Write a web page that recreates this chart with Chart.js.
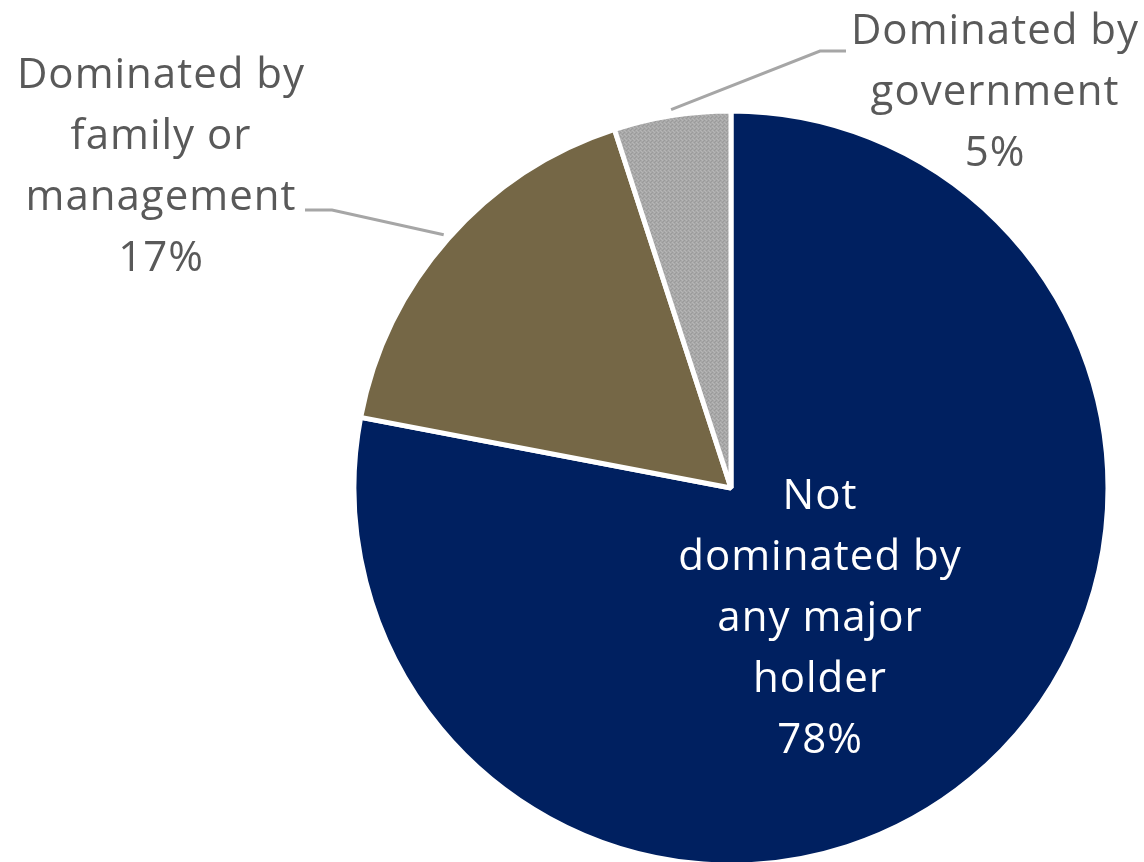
<!DOCTYPE html>
<html>
<head>
<meta charset="utf-8">
<script src="https://cdn.jsdelivr.net/npm/chart.js@4.4.4/dist/chart.umd.min.js"></script>
<style>
  html, body { margin: 0; padding: 0; background: #ffffff; overflow: hidden; }
  #wrap { width: 1144px; height: 862px; }
</style>
</head>
<body>
<div id="wrap"><canvas id="ownershipPie" width="1144" height="862"></canvas></div>
<script>
// ownership split, clockwise from 12 o'clock
const categories = [
    ['Not', 'dominated by', 'any major', 'holder'],
    ['Dominated by', 'family or', 'management'],
    ['Dominated by', 'government']
];
const shares = [78, 17, 5];

const NAVY = '#002060';
const BROWN = '#756746';

// speckled grey fill for the small slice
function speckle() {
    const tile = document.createElement('canvas');
    tile.width = 4;
    tile.height = 4;
    const t = tile.getContext('2d');
    t.fillStyle = '#a8a8a8';
    t.fillRect(0, 0, 4, 4);
    t.fillStyle = '#9a9a9a';
    t.fillRect(0, 0, 1, 1);
    t.fillRect(2, 2, 1, 1);
    t.fillRect(3, 1, 1, 1);
    t.fillStyle = '#b6b6b6';
    t.fillRect(2, 0, 1, 1);
    t.fillRect(0, 2, 1, 1);
    t.fillRect(1, 3, 1, 1);
    return t.createPattern(tile, 'repeat');
}

const ctx = document.getElementById('ownershipPie').getContext('2d');

// draws category text + percentage, with optional elbow leader lines
const sliceLabels = {
    id: 'sliceLabels',
    afterDatasetsDraw(chart, args, opts) {
        const c = chart.ctx;
        const arcs = chart.getDatasetMeta(0).data;
        const labels = chart.data.labels;
        const values = chart.data.datasets[0].data;

        opts.items.forEach((item, i) => {
            const arc = arcs[i];
            if (item.elbow) {
                const mid = (arc.startAngle + arc.endAngle) / 2;
                const r = arc.outerRadius + item.gap;
                c.save();
                c.strokeStyle = opts.leaderColor;
                c.lineWidth = opts.leaderWidth;
                c.beginPath();
                c.moveTo(arc.x + Math.cos(mid) * r, arc.y + Math.sin(mid) * r);
                c.lineTo(item.elbow[0], item.elbow[1]);
                c.lineTo(item.elbow[2], item.elbow[1]);
                c.stroke();
                c.restore();
            }

            const lines = [...labels[i], values[i] + '%'];
            c.save();
            c.font = opts.font;
            c.letterSpacing = opts.letterSpacing;
            c.fillStyle = item.color;
            c.textAlign = 'center';
            c.textBaseline = 'middle';
            lines.forEach((ln, k) => {
                c.fillText(ln, item.x, item.y + k * opts.lineHeight);
            });
            c.restore();
        });
    }
};

new Chart(ctx, {
    type: 'pie',
    data: {
        labels: categories,
        datasets: [{
            data: shares,
            backgroundColor: [NAVY, BROWN, speckle()],
            borderColor: '#ffffff',
            borderWidth: 5
        }]
    },
    options: {
        responsive: false,
        animation: false,
        radius: 377,
        layout: { padding: { left: 318, right: 0, top: 114, bottom: 0 } },
        plugins: {
            legend: { display: false },
            tooltip: { enabled: false },
            sliceLabels: {
                font: '42px "Open Sans", sans-serif',
                letterSpacing: '1px',
                lineHeight: 61,
                leaderColor: '#a6a6a6',
                leaderWidth: 3,
                items: [
                    { x: 820, y: 497, color: '#ffffff' },
                    { x: 161, y: 76, color: '#595959', gap: 6, elbow: [332, 210, 305] },
                    { x: 995, y: 32, color: '#595959', gap: 6, elbow: [820, 51, 846] }
                ]
            }
        }
    },
    plugins: [sliceLabels]
});
</script>
</body>
</html>
